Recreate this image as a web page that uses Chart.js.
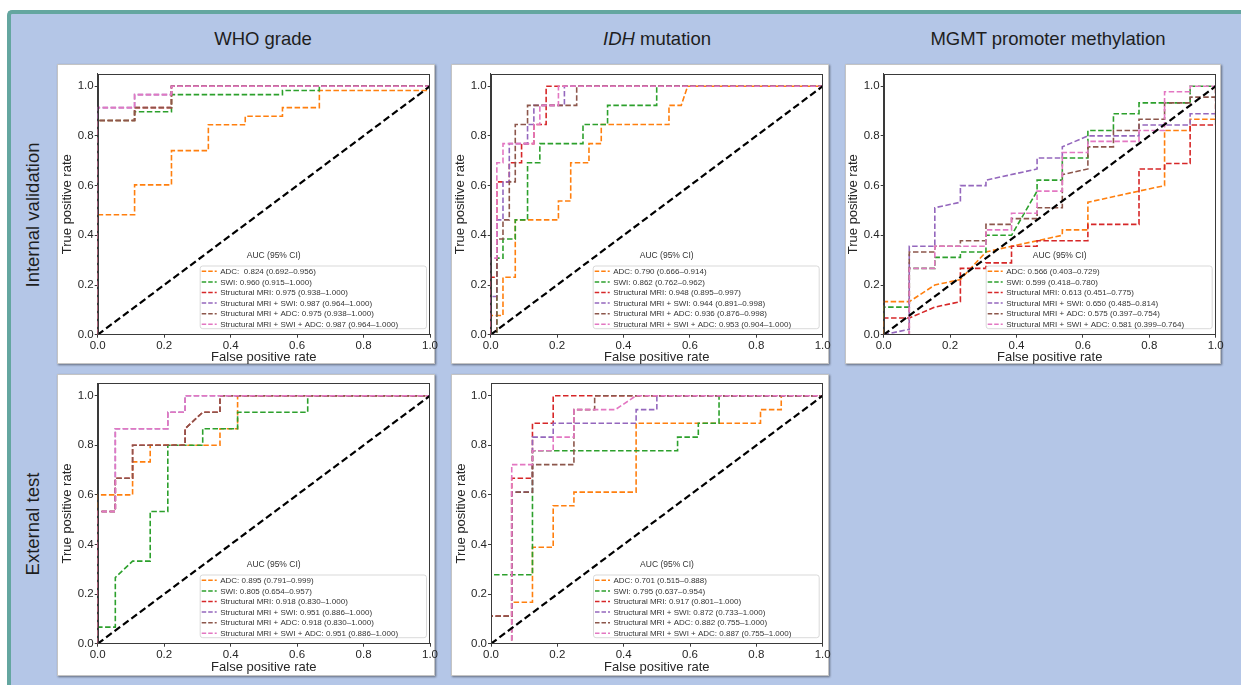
<!DOCTYPE html>
<html><head><meta charset="utf-8">
<script src="https://cdn.jsdelivr.net/npm/chart.js@4.4.0/dist/chart.umd.min.js"></script>
<style>
html,body{margin:0;padding:0;background:#fff;width:1241px;height:685px;overflow:hidden;font-family:"Liberation Sans",Arial,sans-serif;}
#frame{position:absolute;left:7px;top:10px;width:1240px;height:680px;background:#b4c6e7;border-left:4px solid #64a6a0;border-top:4px solid #64a6a0;border-top-left-radius:5px;}
.hdr{position:absolute;font-size:18.5px;color:#1e1e1e;white-space:nowrap;transform:translate(-50%,-50%);}
.side{position:absolute;font-size:18.5px;color:#1e1e1e;white-space:nowrap;transform:translate(-50%,-50%) rotate(-90deg);}
.panel{position:absolute;background:#fff;border:1px solid #c4c4c4;box-shadow:1px 1px 2px rgba(0,0,0,0.45);box-sizing:border-box;}
canvas{position:absolute;}
</style></head><body>
<div id="frame"></div>
<div class="hdr" style="left:263px;top:39px">WHO grade</div>
<div class="hdr" style="left:657px;top:39px"><i>IDH</i> mutation</div>
<div class="hdr" style="left:1048px;top:39px">MGMT promoter methylation</div>
<div class="side" style="left:33px;top:215px">Internal validation</div>
<div class="side" style="left:33px;top:524px">External test</div>
<script>
// ---------- shared ----------
const TICKS = [0.0, 0.2, 0.4, 0.6, 0.8, 1.0];
const COLORS = ['#ff7f0e', '#2ca02c', '#d62728', '#9467bd', '#8c564b', '#e377c2'];
const chanceLine = [[0, 0], [1, 1]];
const X_TITLE = 'False positive rate';
const Y_TITLE = 'True positive rate';
const LEGEND_TITLE = 'AUC (95% CI)';

// ---------- WHO grade, internal validation ----------
const whoInt_ADC = [[0,0],[0,0.483],[0.111,0.483],[0.111,0.603],[0.222,0.603],[0.222,0.741],[0.333,0.741],[0.333,0.845],[0.444,0.845],[0.444,0.879],[0.556,0.879],[0.556,0.914],[0.667,0.914],[0.667,0.983],[1,0.983],[1,1]];
const whoInt_SWI = [[0,0],[0,0.862],[0.111,0.862],[0.111,0.897],[0.222,0.897],[0.222,0.966],[0.556,0.966],[0.556,0.983],[0.667,0.983],[0.667,1],[1,1]];
const whoInt_MRI = [[0,0],[0,0.862],[0.111,0.862],[0.111,0.914],[0.222,0.914],[0.222,1],[1,1]];
const whoInt_MRI_SWI = [[0,0],[0,0.914],[0.111,0.914],[0.111,0.966],[0.222,0.966],[0.222,1],[1,1]];
const whoInt_MRI_ADC = [[0,0],[0,0.862],[0.111,0.862],[0.111,0.914],[0.222,0.914],[0.222,1],[1,1]];
const whoInt_ALL = [[0,0],[0,0.914],[0.111,0.914],[0.111,0.966],[0.222,0.966],[0.222,1],[1,1]];
const whoInt_labels = ['ADC:  0.824 (0.692\u20130.956)','SWI: 0.960 (0.915\u20131.000)','Structural MRI: 0.975 (0.938\u20131.000)','Structural MRI + SWI: 0.987 (0.964\u20131.000)','Structural MRI + ADC: 0.975 (0.938\u20131.000)','Structural MRI + SWI + ADC: 0.987 (0.964\u20131.000)'];

// ---------- IDH mutation, internal validation ----------
const idhInt_ADC = [[0,0],[0,0.077],[0.037,0.077],[0.037,0.231],[0.074,0.231],[0.074,0.462],[0.204,0.462],[0.204,0.538],[0.241,0.538],[0.241,0.692],[0.296,0.692],[0.296,0.769],[0.333,0.769],[0.333,0.846],[0.537,0.846],[0.537,0.923],[0.574,0.923],[0.593,1],[1,1]];
const idhInt_SWI = [[0,0],[0.0185,0],[0.0185,0.308],[0.037,0.308],[0.037,0.385],[0.074,0.385],[0.074,0.462],[0.111,0.462],[0.111,0.692],[0.148,0.692],[0.148,0.769],[0.278,0.769],[0.278,0.846],[0.352,0.846],[0.352,0.923],[0.5,0.923],[0.5,1],[1,1]];
const idhInt_MRI = [[0,0],[0,0.231],[0.0185,0.231],[0.0185,0.615],[0.056,0.615],[0.056,0.692],[0.093,0.692],[0.093,0.769],[0.13,0.769],[0.13,0.846],[0.167,0.846],[0.167,1],[1,1]];
const idhInt_MRI_SWI = [[0,0],[0,0.154],[0.0185,0.154],[0.0185,0.462],[0.037,0.462],[0.037,0.615],[0.056,0.615],[0.056,0.769],[0.111,0.769],[0.111,0.846],[0.13,0.846],[0.13,0.923],[0.222,0.923],[0.222,1],[1,1]];
const idhInt_MRI_ADC = [[0,0],[0.0185,0],[0.0185,0.385],[0.037,0.385],[0.037,0.462],[0.056,0.462],[0.056,0.615],[0.074,0.615],[0.074,0.846],[0.111,0.846],[0.111,0.923],[0.259,0.923],[0.259,1],[1,1]];
const idhInt_ALL = [[0,0],[0,0.308],[0.0185,0.308],[0.0185,0.692],[0.037,0.692],[0.037,0.769],[0.13,0.769],[0.13,0.846],[0.148,0.846],[0.148,0.923],[0.204,0.923],[0.204,1],[1,1]];
const idhInt_labels = ['ADC: 0.790 (0.666\u20130.914)','SWI: 0.862 (0.762\u20130.962)','Structural MRI: 0.948 (0.895\u20130.997)','Structural MRI + SWI: 0.944 (0.891\u20130.998)','Structural MRI + ADC: 0.936 (0.876\u20130.998)','Structural MRI + SWI + ADC: 0.953 (0.904\u20131.000)'];

// ---------- MGMT promoter methylation, internal validation ----------
const mgmtInt_ADC = [[0,0],[0,0.133],[0.077,0.133],[0.154,0.2],[0.231,0.222],[0.308,0.333],[0.385,0.356],[0.462,0.378],[0.538,0.4],[0.538,0.422],[0.615,0.422],[0.615,0.533],[0.769,0.578],[0.846,0.6],[0.846,0.822],[0.923,0.822],[0.923,0.867],[1,0.867],[1,1]];
const mgmtInt_SWI = [[0,0],[0,0.111],[0.077,0.111],[0.077,0.267],[0.154,0.267],[0.154,0.311],[0.231,0.311],[0.231,0.333],[0.308,0.333],[0.308,0.4],[0.385,0.4],[0.462,0.578],[0.462,0.622],[0.538,0.622],[0.538,0.711],[0.615,0.711],[0.615,0.822],[0.692,0.822],[0.692,0.889],[0.769,0.889],[0.769,0.933],[0.923,0.933],[0.923,1],[1,1]];
const mgmtInt_MRI = [[0,0],[0,0.067],[0.077,0.067],[0.154,0.111],[0.231,0.133],[0.231,0.267],[0.308,0.267],[0.308,0.289],[0.385,0.289],[0.385,0.356],[0.462,0.356],[0.462,0.378],[0.615,0.378],[0.615,0.444],[0.769,0.444],[0.769,0.667],[0.846,0.667],[0.846,0.689],[0.923,0.689],[0.923,0.844],[1,0.844],[1,1]];
const mgmtInt_MRI_SWI = [[0,0],[0.077,0.022],[0.077,0.356],[0.154,0.356],[0.154,0.511],[0.231,0.533],[0.231,0.6],[0.308,0.6],[0.308,0.622],[0.462,0.667],[0.462,0.711],[0.538,0.711],[0.538,0.756],[0.615,0.8],[0.769,0.8],[0.769,0.844],[0.923,0.844],[0.923,0.889],[1,0.889],[1,1]];
const mgmtInt_MRI_ADC = [[0,0],[0.077,0],[0.077,0.333],[0.154,0.333],[0.154,0.356],[0.231,0.356],[0.231,0.378],[0.308,0.378],[0.308,0.444],[0.385,0.444],[0.385,0.467],[0.462,0.467],[0.462,0.511],[0.538,0.511],[0.538,0.644],[0.615,0.667],[0.615,0.756],[0.692,0.756],[0.692,0.822],[0.769,0.822],[0.769,0.867],[0.846,0.867],[0.846,0.933],[0.923,0.933],[0.923,0.956],[1,0.956],[1,1]];
const mgmtInt_ALL = [[0,0],[0.077,0],[0.077,0.267],[0.154,0.267],[0.154,0.356],[0.308,0.356],[0.308,0.422],[0.385,0.422],[0.385,0.489],[0.462,0.489],[0.462,0.578],[0.538,0.578],[0.538,0.733],[0.615,0.733],[0.615,0.778],[0.769,0.778],[0.769,0.822],[0.846,0.822],[0.846,0.978],[0.923,0.978],[0.923,1],[1,1]];
const mgmtInt_labels = ['ADC: 0.566 (0.403\u20130.729)','SWI: 0.599 (0.418\u20130.780)','Structural MRI: 0.613 (0.451\u20130.775)','Structural MRI + SWI: 0.650 (0.485\u20130.814)','Structural MRI + ADC: 0.575 (0.397\u20130.754)','Structural MRI + SWI + ADC: 0.581 (0.399\u20130.764)'];

// ---------- WHO grade, external test ----------
const whoExt_ADC = [[0,0],[0,0.6],[0.105,0.6],[0.105,0.733],[0.158,0.733],[0.158,0.8],[0.368,0.8],[0.368,0.867],[0.421,0.867],[0.421,1],[1,1]];
const whoExt_SWI = [[0,0],[0,0.067],[0.053,0.067],[0.053,0.267],[0.105,0.333],[0.158,0.333],[0.158,0.533],[0.211,0.533],[0.211,0.8],[0.316,0.8],[0.316,0.867],[0.421,0.867],[0.421,0.933],[0.632,0.933],[0.632,1],[1,1]];
const whoExt_MRI = [[0,0],[0,0.533],[0.053,0.533],[0.053,0.667],[0.105,0.667],[0.105,0.8],[0.263,0.8],[0.263,0.867],[0.316,0.933],[0.368,0.933],[0.368,1],[1,1]];
const whoExt_MRI_SWI = [[0,0],[0,0.533],[0.053,0.533],[0.053,0.867],[0.211,0.867],[0.211,0.933],[0.263,0.933],[0.263,1],[1,1]];
const whoExt_MRI_ADC = [[0,0],[0,0.533],[0.053,0.533],[0.053,0.667],[0.105,0.667],[0.105,0.8],[0.263,0.8],[0.263,0.867],[0.316,0.933],[0.368,0.933],[0.368,1],[1,1]];
const whoExt_ALL = [[0,0],[0,0.533],[0.053,0.533],[0.053,0.867],[0.211,0.867],[0.211,0.933],[0.263,0.933],[0.263,1],[1,1]];
const whoExt_labels = ['ADC: 0.895 (0.791\u20130.999)','SWI: 0.805 (0.654\u20130.957)','Structural MRI: 0.918 (0.830\u20131.000)','Structural MRI + SWI: 0.951 (0.886\u20131.000)','Structural MRI + ADC: 0.918 (0.830\u20131.000)','Structural MRI + SWI + ADC: 0.951 (0.886\u20131.000)'];

// ---------- IDH mutation, external test ----------
const idhExt_ADC = [[0,0],[0.0625,0],[0.0625,0.167],[0.125,0.167],[0.125,0.389],[0.1875,0.389],[0.1875,0.556],[0.25,0.556],[0.25,0.611],[0.4375,0.611],[0.4375,0.889],[0.8125,0.889],[0.8125,0.944],[0.875,0.944],[0.875,1],[1,1]];
const idhExt_SWI = [[0,0],[0,0.278],[0.125,0.278],[0.125,0.778],[0.5625,0.778],[0.5625,0.833],[0.625,0.833],[0.625,0.889],[0.6875,0.889],[0.6875,1],[1,1]];
const idhExt_MRI = [[0,0],[0,0.111],[0.0625,0.111],[0.0625,0.667],[0.125,0.667],[0.125,0.889],[0.1875,0.889],[0.1875,1],[1,1]];
const idhExt_MRI_SWI = [[0,0],[0.0625,0],[0.0625,0.611],[0.125,0.611],[0.125,0.833],[0.1875,0.833],[0.1875,0.889],[0.4375,0.889],[0.4375,0.944],[0.5,0.944],[0.5,1],[1,1]];
const idhExt_MRI_ADC = [[0,0],[0,0.111],[0.0625,0.111],[0.0625,0.611],[0.125,0.611],[0.125,0.722],[0.25,0.722],[0.25,0.944],[0.3125,0.944],[0.3125,1],[1,1]];
const idhExt_ALL = [[0,0],[0.0625,0],[0.0625,0.722],[0.125,0.722],[0.125,0.778],[0.1875,0.778],[0.1875,0.833],[0.25,0.833],[0.25,0.944],[0.375,0.944],[0.4375,1],[1,1]];
const idhExt_labels = ['ADC: 0.701 (0.515\u20130.888)','SWI: 0.795 (0.637\u20130.954)','Structural MRI: 0.917 (0.801\u20131.000)','Structural MRI + SWI: 0.872 (0.733\u20131.000)','Structural MRI + ADC: 0.882 (0.755\u20131.000)','Structural MRI + SWI + ADC: 0.887 (0.755\u20131.000)'];

// ---------- layout of the five panels ----------
const PANELS = [
  {box:[57,64,378,300],  plot:[97.7,73.8,430,334.7],   xTitlePad:0.5, series:[whoInt_ADC,whoInt_SWI,whoInt_MRI,whoInt_MRI_SWI,whoInt_MRI_ADC,whoInt_ALL], labels:whoInt_labels},
  {box:[451,64,378,300], plot:[490.7,73.8,822.7,334.7], xTitlePad:0.5, series:[idhInt_ADC,idhInt_SWI,idhInt_MRI,idhInt_MRI_SWI,idhInt_MRI_ADC,idhInt_ALL], labels:idhInt_labels},
  {box:[845,64,376,300], plot:[883.7,73.8,1215.7,334.7],xTitlePad:0.5, series:[mgmtInt_ADC,mgmtInt_SWI,mgmtInt_MRI,mgmtInt_MRI_SWI,mgmtInt_MRI_ADC,mgmtInt_ALL], labels:mgmtInt_labels},
  {box:[57,374,378,302], plot:[97.7,383.3,430,643.7],  xTitlePad:2.5, series:[whoExt_ADC,whoExt_SWI,whoExt_MRI,whoExt_MRI_SWI,whoExt_MRI_ADC,whoExt_ALL], labels:whoExt_labels},
  {box:[451,374,378,302],plot:[491,383.3,822.7,643.7], xTitlePad:2.5, series:[idhExt_ADC,idhExt_SWI,idhExt_MRI,idhExt_MRI_SWI,idhExt_MRI_ADC,idhExt_ALL], labels:idhExt_labels}
];

const FONT = '"Liberation Sans", Arial, sans-serif';
const INK = '#262626';
const SPINE = '#3a3a3a';

const rocPlugin = {
  id: 'rocDecor',
  afterDatasetsDraw(chart) {
    const o = chart.options.plugins.rocDecor;
    const a = chart.chartArea, ctx = chart.ctx;
    ctx.save();
    // legend title
    ctx.font = '8.5px ' + FONT;
    ctx.fillStyle = '#333';
    ctx.textAlign = 'center';
    ctx.textBaseline = 'middle';
    ctx.fillText(LEGEND_TITLE, a.left + 176, a.bottom - 79.4);
    // legend box
    const x0 = a.left + 102.5, x1 = a.right - 3.5, y0 = a.bottom - 68.7, y1 = a.bottom - 6;
    ctx.beginPath();
    ctx.roundRect(x0, y0, x1 - x0, y1 - y0, 2.5);
    ctx.fillStyle = 'rgba(255,255,255,0.85)';
    ctx.fill();
    ctx.lineWidth = 0.8;
    ctx.strokeStyle = '#cfcfcf';
    ctx.stroke();
    ctx.font = '8px ' + FONT;
    ctx.textAlign = 'left';
    o.labels.forEach((t, i) => {
      const y = y0 + 5.3 + i * 10.6;
      ctx.beginPath();
      ctx.setLineDash([4.5, 2]);
      ctx.lineWidth = 1.5;
      ctx.strokeStyle = COLORS[i];
      ctx.moveTo(x0 + 1.5, y);
      ctx.lineTo(x0 + 16.5, y);
      ctx.stroke();
      ctx.setLineDash([]);
      ctx.fillStyle = '#333';
      ctx.fillText(t, x0 + 20, y + 0.5);
    });
    ctx.restore();
  },
  afterDraw(chart) {
    const a = chart.chartArea, ctx = chart.ctx;
    ctx.save();
    ctx.strokeStyle = SPINE;
    ctx.lineWidth = 1;
    ctx.setLineDash([]);
    const l = Math.round(a.left) + 0.5, t = Math.round(a.top) + 0.5;
    const r = Math.round(a.right) - 0.5, b = Math.round(a.bottom) - 0.5;
    ctx.strokeRect(l, t, r - l, b - t);
    ctx.restore();
  }
};

PANELS.forEach((p, idx) => {
  const [bx, by, bw, bh] = p.box;
  const [pl, pt, pr, pb] = p.plot;
  const div = document.createElement('div');
  div.className = 'panel';
  div.style.left = bx + 'px'; div.style.top = by + 'px';
  div.style.width = bw + 'px'; div.style.height = bh + 'px';
  document.body.appendChild(div);
  const cw = bw + 14;
  const cv = document.createElement('canvas');
  cv.width = cw; cv.height = bh;
  cv.style.left = bx + 'px'; cv.style.top = by + 'px';
  cv.style.width = cw + 'px'; cv.style.height = bh + 'px';
  document.body.appendChild(cv);

  const datasets = p.series.map((pts, i) => ({
    label: p.labels[i],
    data: pts.map(q => ({x: q[0], y: q[1]})),
    borderColor: COLORS[i],
    borderWidth: 1.6,
    borderDash: [5.5, 2.5],
    pointRadius: 0,
    fill: false,
    tension: 0,
    order: 6 - i
  }));
  datasets.push({
    label: 'chance',
    data: chanceLine.map(q => ({x: q[0], y: q[1]})),
    borderColor: '#000',
    borderWidth: 2.2,
    borderDash: [7, 3.5],
    pointRadius: 0,
    fill: false,
    tension: 0,
    order: -1
  });

  const tickFont = {family: FONT, size: 11.5};
  const titleFont = {family: FONT, size: 13, lineHeight: 1};
  new Chart(cv, {
    type: 'line',
    data: {datasets},
    plugins: [rocPlugin],
    options: {
      responsive: false,
      animation: false,
      devicePixelRatio: 1,
      events: [],
      layout: {autoPadding: false, padding: {left: 0, top: pt - by, right: bx + cw - pr, bottom: 0}},
      plugins: {
        legend: {display: false},
        tooltip: {enabled: false},
        rocDecor: {labels: p.labels}
      },
      scales: {
        x: {
          type: 'linear', min: 0, max: 1,
          afterBuildTicks: s => { s.ticks = TICKS.map(v => ({value: v})); },
          afterFit: s => { s.height = by + bh - pb; },
          ticks: {font: tickFont, color: INK, padding: 1, maxRotation: 0, autoSkip: false, callback: v => Number(v).toFixed(1)},
          grid: {display: true, drawOnChartArea: false, drawTicks: true, tickLength: 3, color: SPINE, tickWidth: 1},
          border: {display: true, color: SPINE, width: 1},
          title: {display: true, text: X_TITLE, font: titleFont, color: INK, padding: {top: 0, bottom: p.xTitlePad}}
        },
        y: {
          type: 'linear', min: 0, max: 1.05,
          afterBuildTicks: s => { s.ticks = TICKS.map(v => ({value: v})); },
          afterFit: s => { s.width = pl - bx; },
          ticks: {font: tickFont, color: INK, padding: 1, autoSkip: false, callback: v => Number(v).toFixed(1)},
          grid: {display: true, drawOnChartArea: false, drawTicks: true, tickLength: 3, color: SPINE, tickWidth: 1},
          border: {display: true, color: SPINE, width: 1},
          title: {display: true, text: Y_TITLE, font: titleFont, color: INK, padding: {top: (pl - 30 - bx) - 6.5, bottom: 0}}
        }
      }
    }
  });
});
</script>
</body></html>
